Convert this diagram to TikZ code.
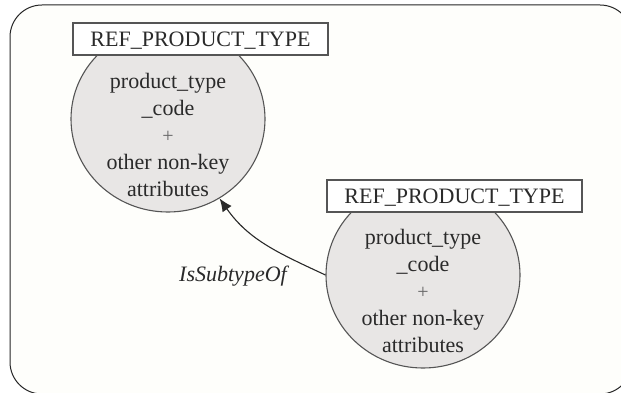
\documentclass[tikz,border=0pt]{standalone}
\usepackage{fontspec}
\setmainfont{Liberation Serif}
\usetikzlibrary{shapes.geometric,arrows.meta}

\definecolor{inkgray}{HTML}{2A2A2A}
\definecolor{edgegray}{HTML}{555555}
\definecolor{plusgray}{HTML}{666666}
\definecolor{bubble}{HTML}{E8E6E5}
\definecolor{paper}{HTML}{FEFEFB}

\tikzset{
  entity/.style={ellipse, draw=edgegray, line width=1.1pt, fill=bubble,
    minimum width=194pt, minimum height=186pt, inner sep=0pt},
  namebox/.style={rectangle, draw=edgegray, line width=1.2pt, fill=white,
    minimum width=255pt, minimum height=32pt, inner sep=0pt,
    text height=15pt, text depth=0pt, text=inkgray,
    font=\fontsize{22}{26}\selectfont},
  attrtext/.style={align=center, text=inkgray, inner sep=0pt,
    font=\fontsize{22}{27}\selectfont},
  rellabel/.style={text=inkgray, inner sep=0pt,
    font=\fontsize{22}{26}\selectfont\itshape},
  relarrow/.style={draw=inkgray, line width=1.1pt,
    -{Latex[length=13pt,width=11pt]}},
  frame/.style={draw=black!85, line width=1pt, fill=paper, rounded corners=32pt}
}

\newcommand{\attrlines}{product\_type\\\_code\\%
  {\fontsize{20}{20}\selectfont\color{plusgray}+}\\other non-key\\attributes}

\begin{document}
\begin{tikzpicture}[x=1pt,y=1pt]
  \useasboundingbox (0,0) rectangle (621,-393);
  \begin{scope}
    \clip (0,0) rectangle (621,-393);
    \path[frame] (10,-5) rectangle (632,-394);
  \end{scope}

  % supertype
  \node[entity] (sup) at (168,-119) {};
  \node[namebox] (supname) at (200.5,-39) {REF\_PRODUCT\_TYPE};
  \node[attrtext] (supattr) at (168,-135) {\attrlines};

  % subtype
  \node[entity] (sub) at (423,-275) {};
  \node[namebox] (subname) at (454.5,-196) {REF\_PRODUCT\_TYPE};
  \node[attrtext] (subattr) at (423,-291) {\attrlines};

  % IsSubtypeOf relationship
  \draw[relarrow] (sub.west) to[out=155,in=-55] (sup.-57);
  \node[rellabel, anchor=base] (rel) at (233,-281.5) {IsSubtypeOf};
\end{tikzpicture}
\end{document}
